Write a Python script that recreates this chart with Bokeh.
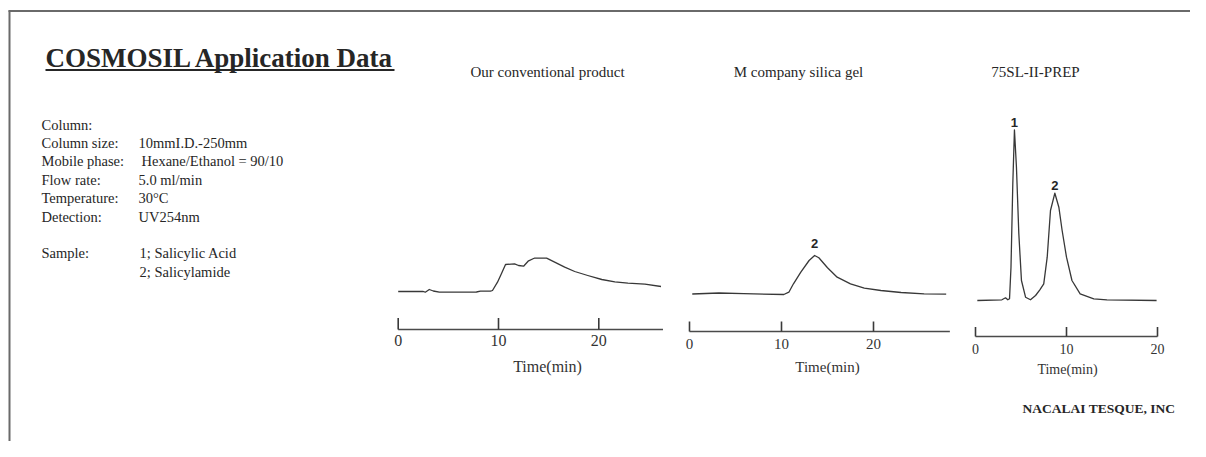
from bokeh.plotting import figure
from bokeh.models import Range1d, ColumnDataSource
from bokeh.core.properties import value
from bokeh.embed import file_html
from bokeh.resources import INLINE

# ---------------- data ----------------
title_text = "COSMOSIL Application Data"
chart_titles = ["Our conventional product", "M company silica gel", "75SL-II-PREP"]
spec_labels = ["Column:", "Column size:", "Mobile phase:", "Flow rate:", "Temperature:", "Detection:", "Sample:", ""]
spec_values = ["", "10mmI.D.-250mm", "Hexane/Ethanol = 90/10", "5.0 ml/min", "30°C", "UV254nm",
               "1; Salicylic Acid", "2; Salicylamide"]
spec_rows = [0, 1, 2, 3, 4, 5, 7, 8]
axis_title = "Time(min)"
company = "NACALAI TESQUE, INC"

tick_values = [0, 10, 20]

# chart 1 : our conventional product
c1_time = [0.0, 2.5, 2.7, 3.1, 3.5, 4.1, 6.0, 7.8, 8.2, 9.2, 9.4, 9.9, 10.3, 10.7, 11.6, 12.0, 12.5,
           12.95, 13.5, 13.6, 14.8, 15.6, 16.6, 17.6, 18.9, 20.3, 21.6, 22.9, 24.6, 26.2]
c1_signal = [0.0, 0.0, -0.7, 2.0, 0.5, -0.7, -0.7, -0.5, 0.3, 0.3, 1.0, 9.3, 18.0, 27.0, 27.7, 26.0, 25.3,
             30.3, 33.0, 33.3, 33.3, 29.3, 24.3, 20.0, 16.0, 12.0, 9.7, 8.3, 7.3, 5.0]
c1_axis_end = 26.4

# chart 2 : M company silica gel
c2_time = [0.3, 3.2, 5.9, 10.25, 10.8, 11.3, 12.1, 13.0, 13.6, 14.06, 15.0, 16.05, 17.5, 19.0, 20.8,
           23.0, 25.5, 27.9]
c2_signal = [0.0, 1.0, 0.3, -0.5, 1.8, 10.2, 21.8, 33.5, 38.5, 36.2, 26.2, 16.8, 10.2, 5.8, 3.5,
             1.5, 0.2, -0.2]
c2_axis_end = 28.3
c2_peak_names = ["2"]
c2_peak_times = [13.6]
c2_peak_heights = [38.5]

# chart 3 : 75SL-II-PREP
c3_time = [0.2, 2.9, 3.3, 3.55, 3.74, 3.9, 4.1, 4.28, 4.5, 4.76, 5.05, 5.5, 6.04, 6.6, 7.07, 7.5,
           7.88, 8.24, 8.72, 9.16, 9.52, 10.0, 10.6, 11.5, 13.0, 14.44, 19.9]
c3_signal = [0.0, 0.7, 2.7, 0.7, 1.7, 33.3, 117.0, 170.7, 133.3, 67.0, 20.0, 3.3, 0.7, 5.0, 10.7, 16.7,
             43.3, 90.0, 107.3, 93.3, 70.0, 43.3, 20.0, 6.7, 1.7, 0.7, 0.0]
c3_axis_end = 20.0
c3_peak_names = ["1", "2"]
c3_peak_times = [4.28, 8.72]
c3_peak_heights = [170.7, 107.3]

# ---------------- layout (canvas pixels) ----------------
W, H = 1190, 441
SERIF = value("Liberation Serif")
SANS = value("Liberation Sans")
INK = "#262626"
LINE = "#383838"

p = figure(width=W, height=H, output_backend="svg", toolbar_location=None,
           x_range=Range1d(0, W), y_range=Range1d(H, 0),
           x_axis_location=None, y_axis_location=None, min_border=0,
           outline_line_color=None, background_fill_color="white", border_fill_color="white")
p.grid.visible = False

# page border (top and left edges visible)
p.segment(x0=[8, 9], y0=[10.5, 10], x1=[W, 9], y1=[10.5, H], line_color="#6a6a6a", line_width=2)

# main title with underline
p.text(x=[45], y=[57], text=[title_text], text_font=SERIF, text_font_style="bold",
       text_font_size="27px", text_color=INK, text_baseline="middle", text_align="left")
p.segment(x0=[45], y0=[69.5], x1=[394], y1=[69.5], line_color=INK, line_width=2)

# specification block
row_y = [124 + 18.4 * r for r in spec_rows]
p.text(x=[41] * len(spec_labels), y=row_y, text=spec_labels, text_font=SERIF, text_font_size="14.5px",
       text_color=INK, text_baseline="middle", text_align="left")
val_x = [138, 138, 141, 138, 138, 138, 139, 139]
p.text(x=val_x, y=row_y, text=spec_values, text_font=SERIF, text_font_size="14.5px",
       text_color=INK, text_baseline="middle", text_align="left")

# chart titles
p.text(x=[547, 798, 1035], y=[71, 71, 71], text=chart_titles, text_font=SERIF, text_font_size="15px",
       text_color=INK, text_baseline="middle", text_align="center")

# company name
p.text(x=[1022], y=[408], text=[company], text_font=SERIF, text_font_style="bold",
       text_font_size="13.5px", text_color=INK, text_baseline="middle", text_align="left")

# ---------------- chromatograms ----------------
charts = [
    # name, time, signal, t0 px, px/min, baseline px, axis px, tick len, axis end, tick label y,
    # axis title pos, font size, peak names, peak times, peak heights, peak label offset
    ("c1", c1_time, c1_signal, 397.7, 10.03, 291.0, 329.0, 11.5, c1_axis_end, 340, (547, 366), "16px",
     [], [], [], 0),
    ("c2", c2_time, c2_signal, 689.0, 9.2, 293.5, 331.0, 10.0, c2_axis_end, 343, (827, 366), "15px",
     c2_peak_names, c2_peak_times, c2_peak_heights, -8),
    ("c3", c3_time, c3_signal, 975.0, 9.1, 300.0, 336.0, 9.5, c3_axis_end, 348, (1067, 369), "14px",
     c3_peak_names, c3_peak_times, c3_peak_heights, -3),
]

xr, yr = {}, {}
for name, t, s, x0, k, base, *_ in charts:
    xr[name] = Range1d(-x0 / k, (W - x0) / k)
    yr[name] = Range1d(base - H, base)
p.extra_x_ranges = xr
p.extra_y_ranges = yr

for (name, t, s, x0, k, base, axy, tl, tend, ly, (tx, ty), fs, pn, pt, ph, poff) in charts:
    src = ColumnDataSource(dict(t=t, s=s))
    p.line("t", "s", source=src, x_range_name=name, y_range_name=name,
           line_color=LINE, line_width=1.3, line_join="round")
    # time axis: baseline and upward ticks
    p.segment(x0=[0], y0=[axy], x1=[tend], y1=[axy], x_range_name=name,
              line_color="#4a4a4a", line_width=1.6)
    p.segment(x0=tick_values, y0=[axy] * len(tick_values), x1=tick_values,
              y1=[axy - tl] * len(tick_values), x_range_name=name,
              line_color="#3a3a3a", line_width=1.6)
    p.text(x=tick_values, y=[ly] * len(tick_values), text=[str(v) for v in tick_values],
           x_range_name=name, text_font=SERIF, text_font_size=fs, text_color="#333333",
           text_baseline="middle", text_align="center")
    p.text(x=[tx], y=[ty], text=[axis_title], text_font=SERIF, text_font_size=fs,
           text_color="#333333", text_baseline="middle", text_align="center")
    if pn:
        p.text(x=pt, y=ph, text=pn, x_range_name=name, y_range_name=name, y_offset=poff,
               text_font=SANS, text_font_style="bold", text_font_size="13px",
               text_color=INK, text_baseline="bottom", text_align="center")

open("out.html", "w").write(file_html(p, INLINE))
